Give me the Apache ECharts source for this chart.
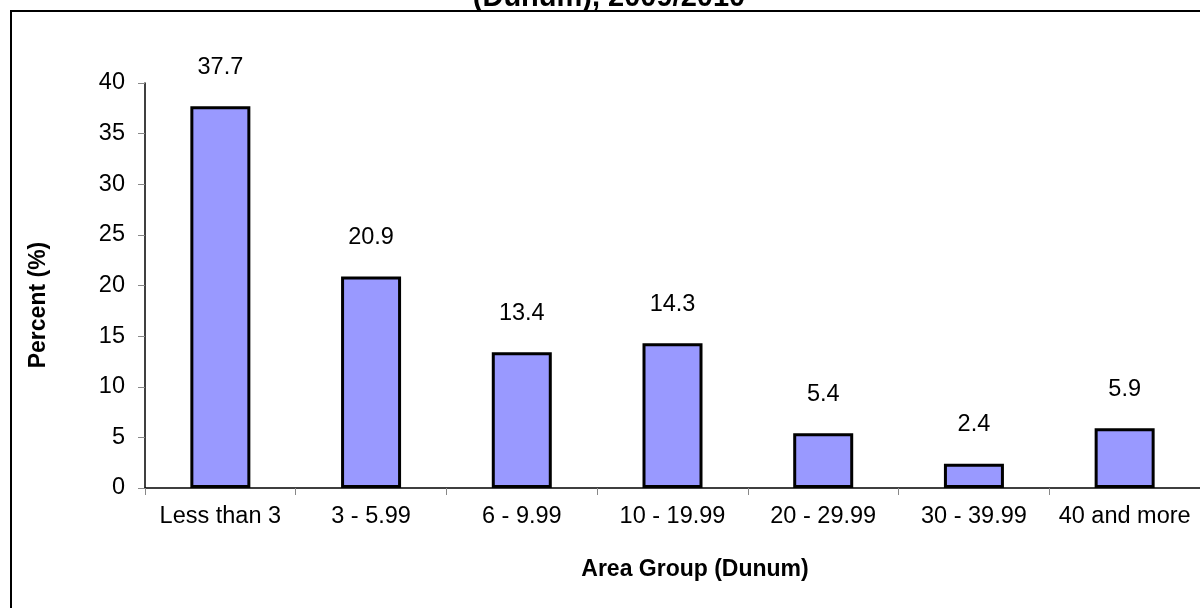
<!DOCTYPE html>
<html>
<head>
<meta charset="utf-8">
<script src="https://cdn.jsdelivr.net/npm/echarts@6/dist/echarts.min.js"></script>
<style>
html,body{margin:0;padding:0;background:#fff;}
#chart{width:1200px;height:608px;}
</style>
</head>
<body>
<div id="chart"></div>
<script>
var categories = ['Less than 3', '3 - 5.99', '6 - 9.99', '10 - 19.99', '20 - 29.99', '30 - 39.99', '40 and more'];
var percentValues = [37.7, 20.9, 13.4, 14.3, 5.4, 2.4, 5.9];
var yTicks = [0, 5, 10, 15, 20, 25, 30, 35, 40];
var titleText = '(Dunum), 2009/2010';
var xAxisTitle = 'Area Group (Dunum)';
var yAxisTitle = 'Percent (%)';

var FONT = '"Liberation Sans", Arial, sans-serif';
var chart = echarts.init(document.getElementById('chart'));
chart.setOption({
  animation: false,
  backgroundColor: '#ffffff',
  grid: { left: 145, right: -3, top: 83, bottom: 120, containLabel: false },
  xAxis: {
    type: 'category',
    data: categories,
    axisLine: { show: true, lineStyle: { color: '#000', width: 1.5 } },
    axisTick: { show: true, alignWithLabel: false, length: 7, lineStyle: { color: '#888' } },
    axisLabel: { color: '#000', fontFamily: FONT, fontSize: 23.5, margin: 17, interval: 0 },
    splitLine: { show: false }
  },
  yAxis: {
    type: 'value',
    min: yTicks[0],
    max: yTicks[yTicks.length - 1],
    interval: yTicks[1] - yTicks[0],
    axisLine: { show: true, lineStyle: { color: '#000', width: 1.5 } },
    axisTick: { show: true, length: 7, lineStyle: { color: '#888' } },
    axisLabel: { color: '#000', fontFamily: FONT, fontSize: 23.5, margin: 20 },
    splitLine: { show: false }
  },
  series: [{
    type: 'bar',
    data: percentValues,
    barWidth: 60,
    itemStyle: { color: '#9999FF', borderColor: '#000', borderWidth: 3 },
    label: {
      show: true,
      position: 'top',
      distance: 27,
      color: '#000',
      fontFamily: FONT,
      fontSize: 23.5,
      formatter: function (p) { return p.value.toFixed(1); }
    }
  }],
  graphic: [
    {
      type: 'rect',
      shape: { x: 11, y: 11, width: 1250, height: 700 },
      style: { fill: 'none', stroke: '#000', lineWidth: 2 },
      silent: true, z: 0
    },
    {
      type: 'text',
      x: 609, y: -2,
      style: { text: titleText, fill: '#000', font: 'bold 29px ' + FONT, textAlign: 'center', textVerticalAlign: 'middle' },
      z: 10
    },
    {
      type: 'text',
      x: 695, y: 570,
      style: { text: xAxisTitle, fill: '#000', font: 'bold 23px ' + FONT, textAlign: 'center', textVerticalAlign: 'middle' },
      z: 10
    },
    {
      type: 'text',
      x: 39, y: 305,
      rotation: Math.PI / 2,
      style: { text: yAxisTitle, fill: '#000', font: 'bold 23px ' + FONT, textAlign: 'center', textVerticalAlign: 'middle' },
      z: 10
    }
  ]
});
</script>
</body>
</html>
